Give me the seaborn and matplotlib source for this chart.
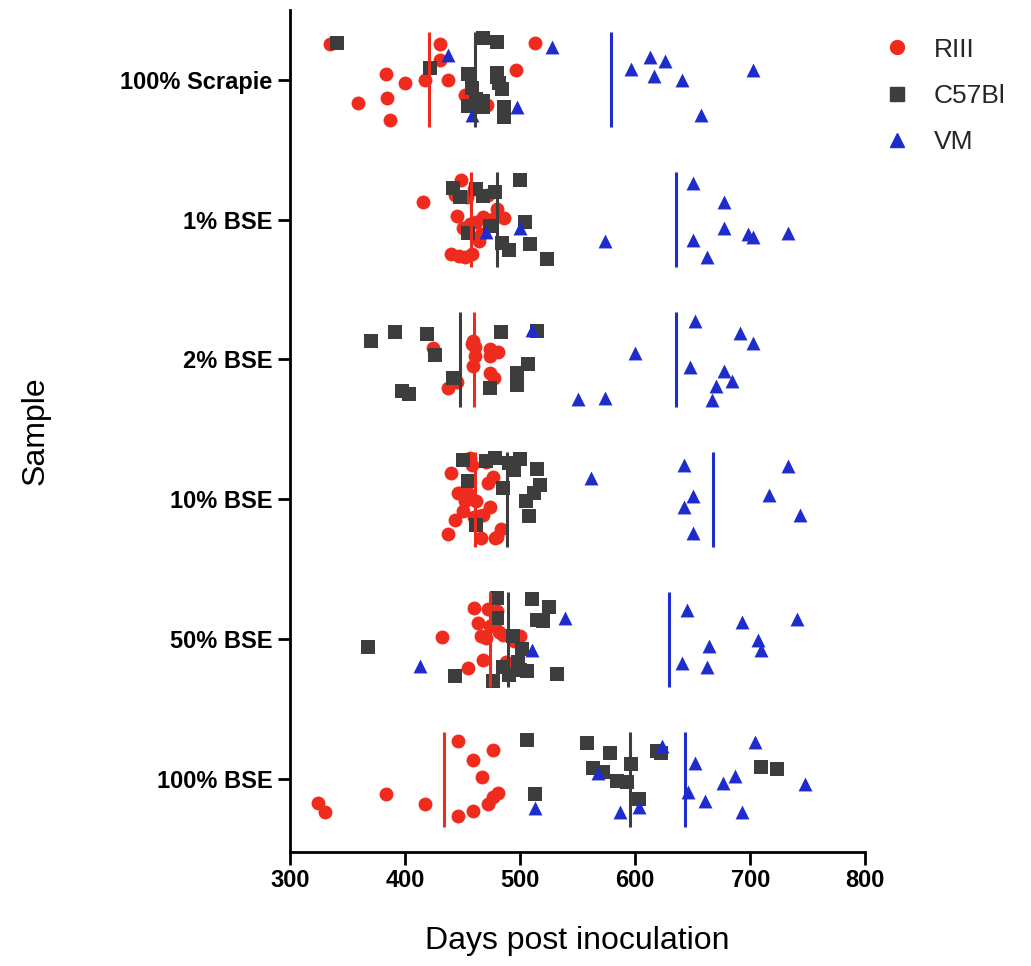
import numpy as np
import pandas as pd
import matplotlib
matplotlib.use("Agg")
import matplotlib.pyplot as plt
from matplotlib.lines import Line2D
import seaborn as sns

# samples from top to bottom
samples = ["100% Scrapie", "1% BSE", "2% BSE", "10% BSE", "50% BSE", "100% BSE"]
strains = ["RIII", "C57Bl", "VM"]

# days post inoculation, one list per sample (same order as samples)
riii = [
    [335, 359, 383, 384, 387, 400, 417, 430, 430, 437, 452, 471, 496, 513],
    [416, 440, 443, 445, 447, 449, 450, 452, 454, 456, 458, 460, 462, 464,
     466, 468, 472, 476, 480, 486],
    [424, 437, 445, 458, 459, 459, 461, 461, 474, 474, 474, 477, 481],
    [437, 440, 443, 446, 448, 450, 452, 454, 456, 458, 460, 462, 464, 466,
     468, 470, 472, 474, 476, 478, 480, 483],
    [432, 455, 460, 463, 466, 468, 470, 472, 474, 476, 478, 480, 482, 485,
     488, 492, 495, 500],
    [324, 330, 383, 417, 446, 446, 459, 459, 467, 472, 476, 476, 481],
]
c57bl = [
    [341, 422, 455, 455, 458, 462, 468, 468, 468, 480, 480, 480, 482, 484,
     486, 486],
    [442, 448, 455, 462, 468, 474, 478, 484, 490, 500, 504, 509, 523],
    [370, 391, 397, 403, 419, 426, 442, 474, 483, 497, 497, 507, 515],
    [450, 455, 462, 470, 478, 485, 490, 495, 500, 505, 508, 512, 515, 517],
    [368, 443, 476, 480, 480, 485, 490, 494, 498, 500, 502, 506, 510, 515,
     520, 525, 532],
    [506, 513, 558, 563, 572, 578, 584, 593, 596, 603, 619, 622, 709, 723],
]
vm = [
    [437, 458, 497, 528, 596, 613, 616, 626, 641, 657, 702],
    [470, 500, 574, 650, 650, 662, 677, 677, 698, 702, 733],
    [510, 550, 574, 600, 648, 652, 667, 670, 677, 684, 691, 702],
    [562, 642, 642, 650, 650, 716, 733, 743],
    [413, 510, 539, 641, 645, 662, 664, 693, 707, 709, 741],
    [513, 568, 587, 603, 623, 646, 652, 661, 676, 687, 693, 704, 748],
]

colors = {"RIII": "#ee2b1d", "C57Bl": "#3d3d3d", "VM": "#1f2ccc"}
markers = {"RIII": "o", "C57Bl": "s", "VM": "^"}

rows = []
for strain, values in zip(strains, [riii, c57bl, vm]):
    for sample, days in zip(samples, values):
        for d in days:
            rows.append({"Sample": sample, "Strain": strain, "Days": d})
df = pd.DataFrame(rows)

sns.set_style("ticks")
plt.rcParams["font.family"] = ["Liberation Sans", "DejaVu Sans"]

fig = plt.figure(figsize=(10.31, 9.66), dpi=100)
ax = fig.add_axes([0.2813, 0.118, 0.558, 0.872])

np.random.seed(7)
for strain in strains:
    sub = df[df["Strain"] == strain]
    sns.stripplot(data=sub, x="Days", y="Sample", order=samples, orient="h",
                  color=colors[strain], marker=markers[strain], jitter=0.3,
                  size=10, linewidth=0, ax=ax, zorder=3)

# mean lines
means = df.groupby(["Sample", "Strain"])["Days"].mean()
for i, sample in enumerate(samples):
    for strain in strains:
        ax.vlines(means[(sample, strain)], i - 0.34, i + 0.34,
                  color=colors[strain], lw=2.2, zorder=4)

ax.set_xlim(300, 800)
ax.set_ylim(5.52, -0.5)
ax.set_xticks([300, 400, 500, 600, 700, 800])
sns.despine(ax=ax)
for s in ["left", "bottom"]:
    ax.spines[s].set_linewidth(2.0)
    ax.spines[s].set_color("black")
ax.tick_params(axis="both", width=2.0, length=9, labelsize=17,
               colors="black")
for lab in ax.get_xticklabels() + ax.get_yticklabels():
    lab.set_fontweight("bold")

ax.set_xlabel("Days post inoculation", fontsize=23, labelpad=24,
              color="black")
ax.set_ylabel("Sample", fontsize=23, labelpad=50, color="black")

handles = [Line2D([], [], ls="none", marker=markers[s], color=colors[s],
                  markersize=10) for s in strains]
ax.legend(handles, strains, loc="upper left", bbox_to_anchor=(0.99, 0.995),
          frameon=False, fontsize=19, handletextpad=0.9, labelspacing=0.85,
          handlelength=1.0)

fig.savefig("out.png", dpi=100)
